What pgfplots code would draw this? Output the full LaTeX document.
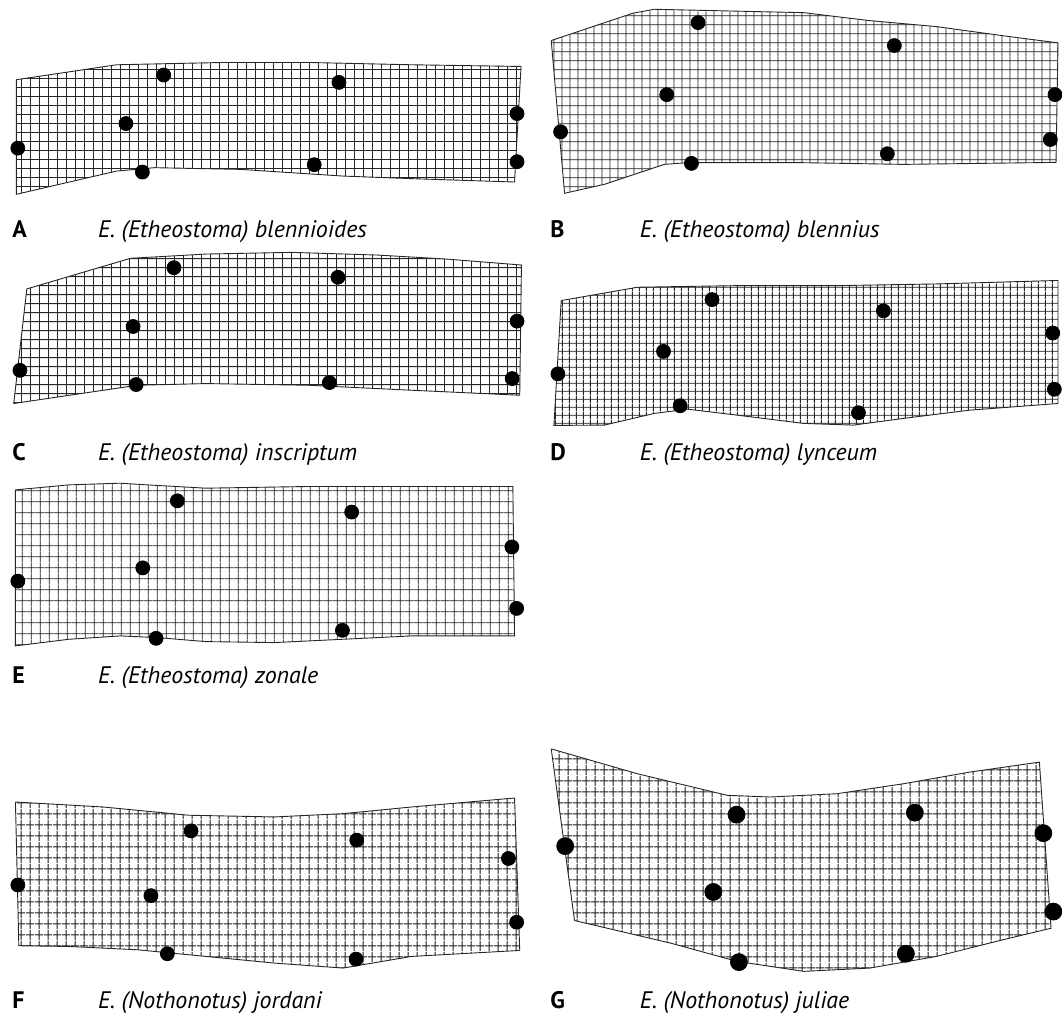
\documentclass[border=0pt]{standalone}
\usepackage{pgfplots}
\pgfplotsset{compat=1.18}
\usepackage{fontspec}
\setmainfont{PT Sans}
\usetikzlibrary{patterns.meta}

\tikzdeclarepattern{
  name=TPS,
  type=uncolored,
  parameters={\pgfkeysvalueof{/pgf/pattern keys/dx},\pgfkeysvalueof{/pgf/pattern keys/dy}},
  bounding box={(0pt,0pt) and (\pgfkeysvalueof{/pgf/pattern keys/dx},\pgfkeysvalueof{/pgf/pattern keys/dy})},
  tile size={(\pgfkeysvalueof{/pgf/pattern keys/dx},\pgfkeysvalueof{/pgf/pattern keys/dy})},
  defaults={dx/.initial=4.5pt, dy/.initial=4.5pt},
  code={
    \draw[line width=0.45pt] (0pt,0.5*\pgfkeysvalueof{/pgf/pattern keys/dy}) -- (\pgfkeysvalueof{/pgf/pattern keys/dx},0.5*\pgfkeysvalueof{/pgf/pattern keys/dy});
    \draw[line width=0.45pt] (0.5*\pgfkeysvalueof{/pgf/pattern keys/dx},0pt) -- (0.5*\pgfkeysvalueof{/pgf/pattern keys/dx},\pgfkeysvalueof{/pgf/pattern keys/dy});
  }
}

\pgfplotsset{
  gridpanel/.style={draw=black!85, line width=0.45pt, pattern color=black!85},
  lmk/.style={only marks, mark=*, mark size=3.5pt, black, mark options={draw=black, fill=black}},
}
\tikzset{
  lab/.style={anchor=base west, inner sep=0pt, font=\bfseries\fontsize{12}{14}\selectfont},
  sp/.style={anchor=base west, inner sep=0pt, font=\itshape\fontsize{12}{14}\selectfont},
}

\begin{document}
\begin{tikzpicture}
\begin{axis}[
  width=531pt, height=509.5pt, scale only axis,
  xmin=0, xmax=1062, ymin=0, ymax=1019, y dir=reverse,
  hide axis, clip=false,
]
\addplot[draw=none] coordinates {(0,0) (1062,1019)};

% ---------- A ----------
\addplot[gridpanel, pattern={TPS[dx=4.5pt,dy=4.5pt]}] coordinates {
(16.5,80) (117,65) (224,62.7) (310,62.7) (413,65) (523,66.7)
(516.5,182.7) (413,179.3) (344,176.7) (241,170) (155,168.3) (117,171.7) (16.5,195) (16.5,80)};
\addplot[lmk] coordinates {(17.9,148.7) (126.4,124) (164.3,75.3) (142.9,172.7) (340.2,82.7) (315.4,165.3) (519,114) (519,162.3)};

% ---------- B ----------
\addplot[gridpanel, pattern={TPS[dx=4.25pt,dy=4.65pt]}] coordinates {
(553.3,40.7) (635,13.3) (656.7,9.3) (806.7,12.7) (873,20.7) (940,26.7) (1013,36.7) (1062,43)
(1060,163) (906.7,165) (806.7,163.3) (690,163.3) (666.7,165) (606.7,185) (566.7,194) (553.3,40.7)};
\addplot[lmk] coordinates {(700.7,22.7) (897.7,45.7) (669.3,95) (562.7,132.3) (694,164) (890.7,154.3) (1059,95) (1054.3,140)};

% ---------- C ----------
\addplot[gridpanel, pattern={TPS[dx=4.5pt,dy=4.7pt]}] coordinates {
(26.9,290) (130.9,259.3) (206.6,255) (292.7,253.3) (378.8,256) (447.7,260) (523.4,266)
(521.7,396.7) (413.2,391.7) (309.9,386.7) (206.6,385) (137.7,386.7) (13.8,405) (26.9,290)};
\addplot[lmk] coordinates {(174.6,268.7) (339.2,278.3) (133.6,327.7) (20,371.7) (136.7,386) (330.6,384) (519,322.3) (514.1,380)};

% ---------- D ----------
\addplot[gridpanel, pattern={TPS[dx=3.7pt,dy=4.1pt]}] coordinates {
(563.3,301.7) (640,288.3) (740,286.7) (840,286.7) (940,285) (1062,281.5)
(1062,405) (973.3,411.7) (906.7,420) (856.7,426.7) (806.7,425) (740,416.7) (690,410.7) (656.7,415) (606.7,426.7) (556,427) (563.3,301.7)};
\addplot[lmk] coordinates {(714.7,300.7) (886.7,312) (666,352.7) (560,375.3) (682.7,407.3) (861.7,414.3) (1056.7,334.3) (1058.3,390.7)};

% ---------- E ----------
\addplot[gridpanel, pattern={TPS[dx=4.65pt,dy=5.4pt]}] coordinates {
(15.5,491.7) (68.9,486.7) (120.5,485) (148,486.7) (206.6,490) (309.9,488.3) (413.2,488.3) (514.8,488.3)
(516.5,638.3) (413.2,638.3) (275.5,645) (206.6,644) (158.4,640) (120.5,638.3) (68.9,641.7) (15.5,648.3) (15.5,491.7)};
\addplot[lmk] coordinates {(178,502.7) (353,514) (143.3,570) (17.9,583.3) (156.7,640.7) (343.7,632.7) (513.8,549) (518.6,610.7)};

% ---------- F ----------
\addplot[gridpanel, pattern={TPS[dx=4.3pt,dy=5.3pt]}] coordinates {
(15.5,805) (103.3,810) (189.4,818.3) (275.5,820) (344.4,816.7) (413.2,810) (516.5,801)
(521.7,954) (413.2,960) (344.4,971.7) (275.5,966.7) (206.6,960) (137.7,953.3) (68.9,950) (18.9,949.3) (15.5,805)};
\addplot[lmk] coordinates {(191.8,834) (358.1,843.3) (510.3,861.7) (17.9,888.3) (151.5,899) (518.6,925.7) (168,957.3) (357.4,962.7)};

% ---------- G ----------
\addplot[gridpanel, pattern={TPS[dx=4.35pt,dy=5.3pt]}] coordinates {
(553.3,751.7) (640,776.7) (730,798.3) (773.3,800) (840,796.7) (906.7,786.7) (973.3,775) (1043.3,765)
(1055,931.7) (1006.7,943.3) (940,960) (873.3,971.7) (806.7,975) (740,965) (673.3,946.7) (576.7,924) (553.3,751.7)};
\addplot[lmk, mark size=4.25pt] coordinates {(739.3,817.7) (918.3,815.7) (1047.3,836.3) (567.3,849.3) (716,895.3) (1057.3,915) (741.7,965.7) (909.3,957.3)};

% ---------- labels ----------
\node[lab] at (axis cs:12,238) {A};
\node[sp]  at (axis cs:98,238) {E. (Etheostoma) blennioides};
\node[lab] at (axis cs:552,238) {B};
\node[sp]  at (axis cs:642,238) {E. (Etheostoma) blennius};
\node[lab] at (axis cs:12,462) {C};
\node[sp]  at (axis cs:98,462) {E. (Etheostoma) inscriptum};
\node[lab] at (axis cs:552,462) {D};
\node[sp]  at (axis cs:642,462) {E. (Etheostoma) lynceum};
\node[lab] at (axis cs:12,686) {E};
\node[sp]  at (axis cs:98,686) {E. (Etheostoma) zonale};
\node[lab] at (axis cs:12,1012) {F};
\node[sp]  at (axis cs:98,1012) {E. (Nothonotus) jordani};
\node[lab] at (axis cs:552,1012) {G};
\node[sp]  at (axis cs:642,1012) {E. (Nothonotus) juliae};
\end{axis}
\end{tikzpicture}
\end{document}
